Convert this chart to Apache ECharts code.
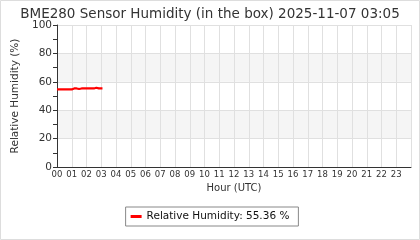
<!DOCTYPE html>
<html><head><meta charset="utf-8">
<script src="https://cdn.jsdelivr.net/npm/echarts@6/dist/echarts.min.js"></script>
<style>html,body{margin:0;padding:0;background:#fff}#c{width:420px;height:240px}</style>
</head><body><div id="c"></div>
<script>
const titleText = 'BME280 Sensor Humidity (in the box) 2025-11-07 03:05';
const seriesName = 'Relative Humidity';
const times = ['00:00','00:05','00:10','00:15','00:20','00:25','00:30','00:35','00:40','00:45','00:50','00:55','01:00',
  '01:05','01:10','01:15','01:20','01:25','01:30','01:35','01:40','01:45','01:50','01:55','02:00',
  '02:05','02:10','02:15','02:20','02:25','02:30','02:35','02:40','02:45','02:50','02:55','03:00','03:05'];
const humidity = [54.6,54.6,54.6,54.6,54.6,54.6,54.6,54.6,54.6,54.6,54.6,54.6,54.6,
  55.3,55.3,55.3,55.3,55.3,54.9,55.3,55.3,55.3,55.3,55.3,55.3,
  55.3,55.3,55.3,55.3,55.3,55.3,55.4,55.8,55.8,55.4,55.4,55.36,55.36];
const hourLabels = ['00','01','02','03','04','05','06','07','08','09','10','11','12','13','14','15','16','17','18','19','20','21','22','23'];

const toHour = t => { const [h,m] = t.split(':').map(Number); return h + m/60; };
const data = times.map((t,i) => [toHour(t), humidity[i]]);
const last = humidity[humidity.length-1];
const FONT = 'DejaVu Sans';

const chart = echarts.init(document.getElementById('c'), null, {renderer:'canvas'});
chart.setOption({
  animation:false,
  textStyle:{fontFamily:FONT},
  title:{text:titleText,left:'center',top:2,textStyle:{fontFamily:FONT,fontSize:13.5,fontWeight:'normal',color:'#333'}},
  graphic:[{type:'rect',shape:{x:0.5,y:0.5,width:419,height:239},style:{fill:'none',stroke:'#dddddd',lineWidth:1},silent:true,z:100}],
  grid:{left:57,right:9,top:25,bottom:73,containLabel:false},
  legend:{
    bottom:14,left:'center',
    data:[{name:seriesName,icon:'rect'}],
    itemWidth:11,itemHeight:3,itemGap:6,
    borderColor:'#888',borderWidth:1,padding:[4,9,4,5],
    formatter:n => n + ': ' + last.toFixed(2) + ' %',
    textStyle:{fontFamily:FONT,fontSize:10.5,color:'#111'}
  },
  xAxis:{
    type:'value',min:0,max:24,interval:1,
    name:'Hour (UTC)',nameLocation:'middle',nameGap:15,
    nameTextStyle:{fontFamily:FONT,fontSize:10,color:'#333'},
    axisLine:{onZero:false,lineStyle:{color:'#333',width:1}},
    axisTick:{show:false},
    axisLabel:{fontFamily:FONT,fontSize:8.5,color:'#333',margin:3,showMaxLabel:false,
      formatter:v => (v>=0 && v<24) ? hourLabels[v] : ''},
    splitLine:{show:true,lineStyle:{color:'#e0e0e0',width:1}}
  },
  yAxis:{
    type:'value',min:0,max:100,interval:20,
    name:'Relative Humidity (%)',nameLocation:'middle',nameGap:34,
    nameTextStyle:{fontFamily:FONT,fontSize:10.5,color:'#333'},
    axisLine:{show:true,lineStyle:{color:'#333',width:1}},
    axisTick:{show:true,inside:false,length:4,lineStyle:{color:'#333'}},
    minorTick:{show:true,splitNumber:2,length:4,lineStyle:{color:'#333'}},
    axisLabel:{fontFamily:FONT,fontSize:10.5,color:'#333',margin:5},
    splitLine:{show:true,lineStyle:{color:'#e0e0e0',width:1}},
    splitArea:{show:true,areaStyle:{color:['#ffffff','#f5f5f5']}}
  },
  series:[{
    name:seriesName,type:'line',data:data,showSymbol:false,
    lineStyle:{color:'#ff0000',width:2.2},itemStyle:{color:'#ff0000'},
    z:5
  }]
});
</script></body></html>
